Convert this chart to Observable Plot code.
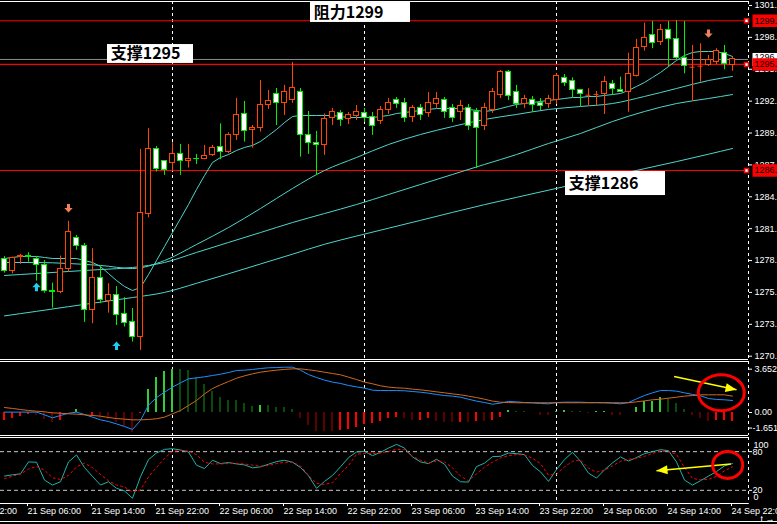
<!DOCTYPE html>
<html>
<head>
<meta charset="utf-8">
<script src="https://cdn.jsdelivr.net/npm/d3@7"></script>
<script src="https://cdn.jsdelivr.net/npm/@observablehq/plot@0.6"></script>
<style>
html, body { margin: 0; padding: 0; background: #000; }
#chart { position: relative; width: 777px; height: 524px; background: #000; overflow: hidden; }
#chart > svg { position: absolute; left: 0; }
</style>
</head>
<body>
<div id="chart"></div>
<script>
// ---------------- DATA ----------------
const firstBar = "2010-09-21T03:00Z"; // hourly bars
const open = [1278.86,1277.77,1278.97,1279.09,1278.86,1278.27,1276.00,1275.93,1277.98,1280.64,
 1279.94,1274.38,1277.19,1275.14,1275.64,1273.97,1273.27,1271.98,1282.81,1288.52,
 1287.40,1287.29,1288.08,1287.40,1287.64,1287.64,1287.99,1288.66,1288.22,1289.75,
 1291.53,1290.19,1290.33,1292.38,1293.29,1292.52,1292.76,1293.46,1289.75,1289.05,
 1288.87,1291.18,1291.62,1291.09,1291.36,1291.62,1291.27,1290.92,1291.88,1292.76,
 1292.50,1291.27,1292.06,1291.62,1292.41,1292.76,1292.06,1291.71,1292.06,1291.71,
 1290.56,1291.88,1293.20,1295.22,1293.46,1292.41,1292.76,1292.58,1292.41,1292.76,
 1294.75,1294.43,1293.64,1293.22,1293.29,1293.35,1294.23,1293.72,1293.49,1294.95,
 1297.44,1298.55,1297.88,1298.91,1298.18,1296.51,1295.68,1295.77,1295.89,1296.18,
 1296.95,1295.89];
const high = [1279.06,1279.00,1279.24,1279.39,1279.06,1278.71,1276.72,1279.09,1282.14,1280.90,
 1280.20,1279.74,1278.12,1276.67,1276.43,1275.44,1274.49,1288.46,1290.28,1288.72,
 1287.49,1289.05,1288.90,1288.90,1288.02,1288.81,1288.81,1290.71,1289.92,1292.94,
 1292.67,1290.56,1294.52,1293.64,1293.81,1294.08,1296.10,1293.81,1291.79,1290.04,
 1291.59,1292.06,1291.88,1291.71,1292.32,1292.06,1291.71,1292.23,1292.94,1293.02,
 1292.94,1292.32,1292.41,1293.46,1293.46,1293.02,1292.41,1292.76,1292.41,1292.06,
 1292.50,1293.81,1295.39,1295.39,1294.08,1293.20,1293.11,1292.93,1293.20,1295.13,
 1295.04,1294.75,1293.70,1293.79,1293.55,1294.87,1294.52,1294.81,1296.91,1298.12,
 1299.55,1299.70,1299.43,1299.70,1299.78,1299.70,1297.59,1297.74,1296.71,1297.30,
 1297.59,1296.56];
const low = [1277.60,1277.54,1278.36,1278.56,1276.89,1275.84,1274.52,1275.79,1277.69,1279.60,
 1273.27,1273.15,1274.91,1274.08,1273.00,1272.86,1271.54,1270.81,1282.46,1286.47,
 1286.18,1286.53,1286.18,1286.82,1287.14,1287.55,1287.84,1287.55,1288.08,1289.25,
 1289.10,1288.57,1289.98,1291.97,1290.56,1291.44,1292.50,1287.78,1288.02,1286.17,
 1287.93,1290.56,1290.47,1290.65,1291.00,1290.83,1289.69,1290.65,1291.53,1292.06,
 1290.83,1290.83,1291.00,1291.27,1292.06,1291.18,1290.83,1291.00,1290.12,1286.79,
 1290.12,1291.62,1292.93,1292.76,1292.06,1292.06,1291.71,1291.88,1292.06,1292.41,
 1293.99,1293.00,1292.23,1292.23,1292.23,1291.53,1293.20,1293.49,1291.73,1294.81,
 1297.09,1297.30,1297.59,1295.68,1296.33,1295.10,1292.67,1294.37,1295.75,1295.92,
 1295.46,1295.33];
const close = [1277.77,1278.89,1279.09,1278.97,1278.33,1276.00,1275.93,1277.98,1281.17,1279.94,
 1274.38,1277.19,1275.26,1275.64,1273.95,1273.24,1271.98,1282.90,1288.52,1286.76,
 1286.61,1288.08,1287.40,1287.64,1287.58,1287.87,1288.61,1288.22,1289.69,1291.44,
 1290.06,1290.36,1292.38,1292.67,1292.52,1293.46,1293.81,1289.75,1289.01,1288.87,
 1291.15,1291.71,1291.00,1291.44,1291.71,1291.18,1290.56,1291.88,1292.50,1292.41,
 1291.18,1292.06,1291.44,1292.58,1292.93,1291.71,1291.18,1292.23,1290.56,1290.30,
 1292.06,1293.46,1295.22,1293.11,1292.41,1292.93,1292.32,1292.23,1292.93,1294.87,
 1294.31,1293.64,1293.29,1293.22,1293.29,1294.37,1293.79,1293.52,1295.04,1297.39,
 1298.27,1297.83,1298.97,1298.18,1296.47,1295.75,1295.68,1295.77,1296.27,1297.06,
 1295.98,1296.36];

// moving averages (fast: every bar; others read every 4 bars)
const maFast = [1278.88,1278.97,1279.06,1279.06,1279.06,1278.97,1278.88,1278.88,1278.88,1278.88,
 1278.70,1278.53,1278.18,1277.56,1276.95,1276.42,1276.07,1276.33,1277.47,1278.70,
 1279.93,1281.16,1282.39,1283.62,1284.94,1286.17,1287.31,1287.75,1288.01,1288.37,
 1288.63,1288.81,1289.16,1289.68,1290.21,1290.82,1291.35,1291.44,1291.44,1291.44,
 1291.44,1291.44,1291.35,1291.26,1291.26,1291.26,1291.26,1291.35,1291.44,1291.61,
 1291.70,1291.79,1291.88,1291.97,1292.05,1292.05,1292.05,1292.05,1291.97,1291.88,
 1291.79,1291.88,1292.05,1292.23,1292.41,1292.49,1292.58,1292.67,1292.76,1292.84,
 1292.93,1293.02,1293.02,1293.11,1293.11,1293.20,1293.28,1293.37,1293.64,1293.99,
 1294.34,1294.78,1295.22,1295.74,1296.27,1296.71,1296.97,1297.06,1297.06,1297.06,
 1296.89,1296.62];
const maBars = [0,4,8,12,16,20,24,28,32,36,40,44,48,52,56,60,64,68,72,76,80,84,88,91];
const maMid = [1278.53,1278.53,1278.44,1278.27,1278.00,1278.70,1280.11,1281.60,1283.27,1285.03,1286.61,1287.75,1288.89,1289.77,1290.47,1291.09,1291.53,1291.97,1292.23,1292.49,1293.11,1293.81,1294.51,1294.87];
const maSlow = [1277.39,1277.56,1277.74,1277.91,1278.09,1278.53,1279.41,1280.29,1281.16,1282.04,1282.83,1283.62,1284.50,1285.38,1286.26,1287.14,1288.01,1288.98,1289.86,1290.91,1291.79,1292.49,1292.93,1293.28];
const maLong = [1273.84,1274.24,1274.65,1275.05,1275.45,1275.90,1276.70,1277.54,1278.40,1279.26,1280.13,1280.85,1281.54,1282.23,1282.93,1283.61,1284.25,1284.88,1285.51,1286.14,1286.77,1287.39,1288.04,1288.54];

// horizontal lines and labels
const levelPrice = [1299.76, 1295.92, 1286.61];
const noteText = ["阻力1299", "支撑1295", "支撑1286"];
const noteBars = [[38.25, 50.75], [12.875, 23.625], [70.125, 82.625]];
const notePrices = [[1301.36, 1299.61], [1297.67, 1296.01], [1286.52, 1284.41]];

// signal arrows
const sigBar = [4, 14, 8, 88];
const sigPrice = [1276.75, 1271.59, 1282.92, 1298.26];
const sigDir = [1, 1, -1, -1];

// MACD
const macdHist = [-0.67,-0.51,-0.34,-0.17,-0.23,-0.56,-0.84,-0.67,-0.03,0.25,
 -0.03,-0.34,-0.51,-0.56,-0.84,-1.18,-1.65,-0.06,1.94,2.95,
 3.46,3.65,3.60,3.54,2.95,2.36,1.77,1.26,1.01,1.01,
 0.76,0.51,0.59,0.59,0.42,0.42,0.25,-0.51,-1.10,-1.60,
 -1.60,-1.60,-1.52,-1.43,-1.26,-1.01,-0.93,-0.76,-0.51,-0.42,
 -0.51,-0.67,-0.67,-0.51,-0.76,-0.84,-0.84,-0.84,-0.84,-0.76,
 -0.76,-0.67,-0.42,0.17,0.08,0.06,-0.03,-0.25,-0.25,0.08,
 0.17,0.08,0.08,-0.08,0.08,0.08,-0.25,-0.25,0.03,0.42,
 0.93,0.93,1.26,1.18,0.76,0.25,-0.25,-0.51,-0.76,-0.67,
 -0.67,-0.76];
const macdBright = [1,1,1,1,0,0,0,1,1,1,
 1,1,0,0,0,0,0,1,1,1,
 1,1,0,0,0,0,0,0,0,0,
 0,0,1,0,0,0,0,0,0,0,
 0,0,1,1,1,1,1,1,1,1,
 0,0,1,1,0,0,0,1,0,1,
 0,1,1,1,0,0,0,0,0,1,
 1,0,0,0,1,1,0,0,1,1,
 1,1,1,0,0,0,0,0,0,1,
 1,1];
const macdMain = [0.03,0.03,0.03,0.03,0.03,-0.20,-0.45,-0.25,-0.06,0.03,
 -0.17,-0.39,-0.62,-0.76,-0.96,-1.18,-1.43,-0.67,0.62,1.26,
 1.71,2.14,2.50,2.84,2.92,3.01,3.12,3.23,3.37,3.54,
 3.57,3.63,3.71,3.77,3.79,3.82,3.82,3.57,3.20,2.95,
 2.73,2.56,2.45,2.28,2.16,2.05,1.88,1.85,1.85,1.85,
 1.83,1.77,1.71,1.63,1.52,1.43,1.38,1.29,1.12,0.96,
 0.84,0.70,0.79,0.93,0.90,0.84,0.82,0.76,0.73,0.84,
 0.87,0.87,0.87,0.84,0.84,0.82,0.79,0.73,0.84,1.15,
 1.43,1.66,1.85,1.85,1.80,1.66,1.52,1.41,1.18,1.10,
 1.07,1.01];
const macdSignal = [0.42,0.34,0.25,0.17,0.11,0.06,-0.03,-0.06,-0.11,-0.14,
 -0.20,-0.25,-0.31,-0.42,-0.51,-0.56,-0.62,-0.62,-0.59,-0.53,
 -0.39,-0.11,0.17,0.59,1.01,1.57,2.02,2.33,2.61,2.89,
 3.09,3.26,3.40,3.49,3.57,3.63,3.68,3.68,3.60,3.51,
 3.40,3.29,3.18,2.98,2.78,2.56,2.42,2.25,2.14,2.08,
 2.05,1.97,1.91,1.83,1.74,1.66,1.57,1.49,1.38,1.26,
 1.12,0.96,0.87,0.84,0.82,0.82,0.82,0.82,0.82,0.82,
 0.82,0.82,0.82,0.82,0.82,0.82,0.82,0.82,0.82,0.90,
 0.98,1.07,1.12,1.21,1.29,1.38,1.43,1.49,1.49,1.49,
 1.49,1.38];

// Stochastic
const stochK = [42.1,44.1,45.6,64.1,63.6,35.9,28.2,33.3,64.1,74.9,
 55.4,41.5,28.2,33.3,23.1,19.0,7.7,41.0,67.7,77.9,
 83.6,84.6,82.6,79.5,59.0,53.8,66.7,61.5,63.1,61.0,
 59.5,54.9,56.4,60.5,64.6,66.7,63.6,55.4,42.6,23.1,
 33.8,43.1,56.4,70.8,79.5,80.5,73.8,79.0,85.6,91.3,
 85.6,71.8,64.1,61.5,68.2,60.5,42.1,33.3,32.8,56.9,
 62.1,72.3,72.8,77.9,76.9,75.4,58.5,48.7,33.8,52.3,
 67.7,79.0,65.1,46.7,39.0,51.8,62.6,71.8,65.6,70.8,
 76.9,80.0,83.1,81.5,64.1,35.9,28.2,34.9,42.1,49.2,
 58.0,61.5];
const stochD = [38.0,42.1,45.1,52.8,56.9,51.3,39.5,36.9,43.1,56.4,
 62.1,55.4,44.6,34.9,28.2,25.1,17.4,20.5,41.0,55.4,
 69.7,80.5,82.1,81.0,75.4,63.6,61.0,61.0,61.5,61.5,
 61.0,59.0,57.4,58.5,61.5,63.6,63.6,58.0,43.1,30.8,
 29.2,31.8,46.2,58.5,75.9,77.4,77.4,77.9,80.5,83.6,
 83.1,72.8,66.7,62.6,65.6,64.1,54.9,42.1,34.9,45.6,
 55.9,63.6,70.3,73.8,75.4,74.9,69.7,61.5,43.6,45.1,
 56.4,65.1,67.2,54.4,48.2,51.3,58.0,65.1,68.2,69.7,
 72.8,77.4,81.0,79.5,75.9,55.4,38.5,36.4,36.9,41.5,
 50.3,56.4];
const stochLevels = [80, 20];

// axis tick labels
const priceTicks = [1270.3,1273.1,1275.9,1278.7,1281.5,1284.3,1287.1,1289.9,1292.7,1295.5,1298.3,1301.1];
const timeTicks = ["20 Sep 22:00","21 Sep 06:00","21 Sep 14:00","21 Sep 22:00","22 Sep 06:00","22 Sep 14:00","22 Sep 22:00","23 Sep 06:00","23 Sep 14:00","23 Sep 22:00","24 Sep 06:00","24 Sep 14:00","24 Sep 22:00"];

// hand-drawn annotations on the indicator panes
const macdArrow = {fromBar: 83.7, fromVal: 3.04, toBar: 91.5, toVal: 1.91};
const macdRing = {bar: 89.6, val: 1.67, rx: 23, ry: 18};
const stochArrow = {fromBar: 90.8, fromVal: 60.9, toBar: 81.5, toVal: 50.2};
const stochRing = {bar: 90.4, val: 59.4, rx: 15, ry: 13.5};

// ---------------- DRAWING ----------------
const FONT = "'Liberation Sans', Arial, sans-serif";
const CJK = "'Noto Sans CJK SC', 'Noto Sans', sans-serif";
const W = 777, MR = 29;
const H = 3600e3;
const T0 = +new Date(firstBar);
const T = b => new Date(T0 + b * H);
const off = (t, k) => new Date(+t + k * H);
const xDomain = [T(-0.5), T(93)];
const baseStyle = {background: "#000", color: "#fff", fontFamily: FONT, fontSize: "9px"};
const xOpt = {type: "utc", domain: xDomain, axis: null};
const daySeps = d3.utcDay.range(T(0), T(93.5));
const dash = {stroke: "#fff", strokeDasharray: "3,3"};

const CUP = "#ff4500", CDN = "#00ee00", MAC = "#4fd6cc";
const bars = close.map((c, i) => ({t: T(i), o: open[i], h: high[i], l: low[i], c, up: c >= open[i]}));
const cc = d => d.up ? CUP : CDN;

const maPts = maFast.map((v, i) => ({t: T(i), v}));
const maSampled = [["mid", maMid], ["slow", maSlow], ["long", maLong]]
  .flatMap(([k, arr]) => arr.map((v, j) => ({t: T(maBars[j]), v, k})));

const notes = noteText.map((text, i) => ({text, b1: noteBars[i][0], b2: noteBars[i][1], p1: notePrices[i][0], p2: notePrices[i][1]}));
const signals = sigBar.map((b, i) => ({t: T(b), p: sigPrice[i], dir: sigDir[i]}));

const arrowSym = {draw(ctx) {
  ctx.moveTo(0, 0); ctx.lineTo(4.2, 4.4); ctx.lineTo(1.5, 4.4); ctx.lineTo(1.5, 8.4);
  ctx.lineTo(-1.5, 8.4); ctx.lineTo(-1.5, 4.4); ctx.lineTo(-4.2, 4.4); ctx.closePath();
}};
const tagSym = (w, h) => ({draw(ctx) {
  ctx.moveTo(0, -h / 2); ctx.lineTo(w, -h / 2); ctx.lineTo(w, h / 2); ctx.lineTo(0, h / 2); ctx.closePath();
}});
const ellipseSym = (rx, ry) => ({draw(ctx) {
  const k = 0.5523;
  ctx.moveTo(rx, 0);
  ctx.bezierCurveTo(rx, ry * k, rx * k, ry, 0, ry);
  ctx.bezierCurveTo(-rx * k, ry, -rx, ry * k, -rx, 0);
  ctx.bezierCurveTo(-rx, -ry * k, -rx * k, -ry, 0, -ry);
  ctx.bezierCurveTo(rx * k, -ry, rx, -ry * k, rx, 0);
  ctx.closePath();
}});
const headSym = {draw(ctx) { ctx.moveTo(0, 0); ctx.lineTo(-11, -4.5); ctx.lineTo(-11, 4.5); ctx.closePath(); }};

const xs = Plot.scale({x: {type: "utc", domain: xDomain, range: [0, W - MR]}});
function headAngle(a, ys) {
  const x1 = xs.apply(T(a.fromBar)), y1 = ys.apply(a.fromVal);
  const x2 = xs.apply(T(a.toBar)), y2 = ys.apply(a.toVal);
  return Math.atan2(y2 - y1, x2 - x1) * 180 / Math.PI;
}
function annotation(a, ring, ys) {
  const ang = headAngle(a, ys);
  return [
    Plot.link([a], {x1: d => T(d.fromBar), y1: "fromVal", x2: d => T(d.toBar), y2: "toVal", stroke: "#ffff00", strokeWidth: 1.5}),
    Plot.dot([a], {x: d => T(d.toBar), y: "toVal", symbol: headSym, rotate: ang, fill: "#ffff00", stroke: null}),
    Plot.dot([ring], {x: d => T(d.bar), y: "val", symbol: ellipseSym(ring.rx, ring.ry), fill: "none", stroke: "#ff0000", strokeWidth: 3})
  ];
}

// ---- main price pane ----
const mainY = [1270.01, 1301.45];
const lastClose = close[close.length - 1];
const mainYS = Plot.scale({y: {domain: mainY, range: [359, 1]}});
// an axis label that sits fully under a price tag is not visible: keep its tick, drop its text
const hidden = v => levelPrice.concat([lastClose]).some(p => Math.abs(mainYS.apply(p) - mainYS.apply(v)) < 4);
const mainPlot = Plot.plot({
  width: W, height: 360, marginLeft: 0, marginRight: MR, marginTop: 1, marginBottom: 1,
  style: baseStyle,
  x: xOpt,
  y: {domain: mainY, range: [359, 1], axis: null},
  marks: [
    Plot.ruleY(mainY, {stroke: "#fff"}),
    Plot.ruleX(daySeps, dash),
    Plot.ruleY(levelPrice, {stroke: "#ff0000", strokeWidth: 1.2}),
    Plot.ruleY([lastClose], {stroke: "#8a8a8a"}),
    Plot.line(maSampled, {x: "t", y: "v", z: "k", stroke: MAC, strokeWidth: 1, curve: "monotone-x"}),
    Plot.line(maPts, {x: "t", y: "v", stroke: MAC, strokeWidth: 1}),
    Plot.ruleX(bars, {x: "t", y1: "l", y2: "h", stroke: cc}),
    Plot.rect(bars.filter(d => d.o !== d.c), {x1: d => off(d.t, -0.3), x2: d => off(d.t, 0.3), y1: "o", y2: "c",
      fill: d => d.up ? "#000" : "#fff", stroke: cc, strokeWidth: 1, shapeRendering: "crispEdges"}),
    Plot.ruleY(bars.filter(d => d.o === d.c), {y: "c", x1: d => off(d.t, -0.3), x2: d => off(d.t, 0.3), stroke: cc}),
    Plot.dot(signals, {x: "t", y: "p", symbol: arrowSym, rotate: d => d.dir > 0 ? 0 : 180,
      fill: d => d.dir > 0 ? "#22ccf0" : "#f0805a", stroke: null}),
    Plot.rect(notes, {x1: d => T(d.b1), x2: d => T(d.b2), y1: "p1", y2: "p2", fill: "#fff"}),
    Plot.text(notes, {x: d => T(d.b1 + 0.4), y: d => (d.p1 + d.p2) / 2, text: "text", textAnchor: "start",
      fill: "#000", fontFamily: CJK, fontWeight: "bold", fontSize: 16}),
    Plot.axisY({ticks: priceTicks, anchor: "right", tickSize: 3, tickPadding: 3, fontSize: 9,
      tickFormat: d => hidden(d) ? "" : d.toFixed(2).slice(0, 5)}),
    Plot.dot([lastClose], {x: () => T(93), y: d => d, symbol: tagSym(30, 13), dx: 4, fill: "#fff", stroke: null}),
    Plot.text([lastClose], {x: () => T(93), y: d => d, dx: 6, dy: -2, text: d => d.toFixed(2).slice(0, 5), textAnchor: "start", fill: "#000", fontSize: 9}),
    Plot.dot(levelPrice, {x: () => T(93), y: d => d, symbol: tagSym(30, 12.5), dx: 4, fill: "#ff0000", stroke: null}),
    Plot.text(levelPrice, {x: () => T(93), y: d => d, dx: 6, text: d => d.toFixed(2).slice(0, 5), textAnchor: "start", fill: "#000", fontSize: 9}),
    Plot.dot(levelPrice, {x: () => T(92.75), y: d => d, symbol: "square", r: 2.2, fill: "#fff", stroke: "#ff0000"})
  ]
});

// ---- MACD pane ----
const macdYD = [-1.94, 4.30];
const macdYS = Plot.scale({y: {domain: macdYD, range: [75, 1]}});
const hist = macdHist.map((v, i) => ({t: T(i), v, b: macdBright[i]}));
const histColor = d => d.v >= 0 ? (d.b ? "#32cd32" : "#0a4a0a") : (d.b ? "#ff0000" : "#5a0000");
const macdPts = macdMain.map((m, i) => ({t: T(i), m, s: macdSignal[i]}));
const macdPlot = Plot.plot({
  width: W, height: 77, marginLeft: 0, marginRight: MR, marginTop: 1, marginBottom: 2,
  style: baseStyle,
  x: xOpt,
  y: {domain: macdYD, range: [75, 1], axis: null},
  marks: [
    Plot.ruleY(macdYD, {stroke: "#fff"}),
    Plot.ruleX(daySeps, dash),
    Plot.rect(hist, {x1: d => off(d.t, -0.18), x2: d => off(d.t, 0.18), y1: 0, y2: "v", fill: histColor, shapeRendering: "crispEdges"}),
    Plot.line(macdPts, {x: "t", y: "m", stroke: "#1e90ff", strokeWidth: 1}),
    Plot.line(macdPts, {x: "t", y: "s", stroke: "#d2691e", strokeWidth: 1}),
    Plot.axisY({ticks: [3.652, 0], anchor: "right", tickSize: 3, tickPadding: 3, fontSize: 9,
      tickFormat: d => d === 0 ? "0.00" : String(d)}),
    Plot.axisY({ticks: [-1.651], anchor: "right", tickSize: 3, tickPadding: 1, fontSize: 9, dy: -4,
      tickFormat: d => String(d)}),
    ...annotation(macdArrow, macdRing, macdYS)
  ]
});

// ---- Stochastic pane with time axis ----
const stochYD = [-0.46, 102];
const stochYS = Plot.scale({y: {domain: stochYD, range: [66, 0]}});
const stochPts = stochK.map((k, i) => ({t: T(i), k, d: stochD[i]}));
const parseTick = s => d3.utcParse("%Y %d %b %H:%M")("2010 " + s);
const tickDates = timeTicks.map(parseTick);
const fmtTick = d3.utcFormat("%d %b %H:%M");
const stochPlot = Plot.plot({
  width: W, height: 87, marginLeft: 0, marginRight: MR, marginTop: 0, marginBottom: 21,
  style: baseStyle,
  x: xOpt,
  y: {domain: stochYD, range: [66, 0], axis: null},
  marks: [
    Plot.ruleY([102], {stroke: "#fff"}),
    Plot.ruleY([-0.46], {stroke: "#fff", x1: T(-1), x2: T(93.1)}),
    Plot.ruleY([-28.4], {stroke: "#fff", x1: T(-1), x2: T(97)}),
    Plot.ruleX(daySeps, dash),
    Plot.ruleY(stochLevels, {stroke: "#c8c8c8", strokeDasharray: "4,3"}),
    Plot.line(stochPts, {x: "t", y: "k", stroke: "#20b2aa", strokeWidth: 1}),
    Plot.line(stochPts, {x: "t", y: "d", stroke: "#ff0000", strokeWidth: 1, strokeDasharray: "2,3"}),
    Plot.axisX({ticks: tickDates, anchor: "bottom", tickSize: 3, tickPadding: 1, fontSize: 9,
      textAnchor: "start", dx: -1, tickFormat: fmtTick}),
    Plot.axisY({ticks: stochLevels, anchor: "right", tickSize: 3, tickPadding: 1, fontSize: 9, tickFormat: d => String(d)}),
    Plot.text([100], {x: () => T(93), y: d => d, dx: 5, dy: 6, text: d => String(d), textAnchor: "start", fill: "#fff", fontSize: 9}),
    Plot.text([0], {x: () => T(93), y: d => d, dx: 5, dy: -6, text: d => String(d), textAnchor: "start", fill: "#fff", fontSize: 9}),
    ...annotation(stochArrow, stochRing, stochYS)
  ]
});

const host = document.getElementById("chart");
[[mainPlot, 0], [macdPlot, 360], [stochPlot, 437]].forEach(([svg, top]) => {
  svg.style.top = top + "px";
  host.appendChild(svg);
});
</script>
</body>
</html>
